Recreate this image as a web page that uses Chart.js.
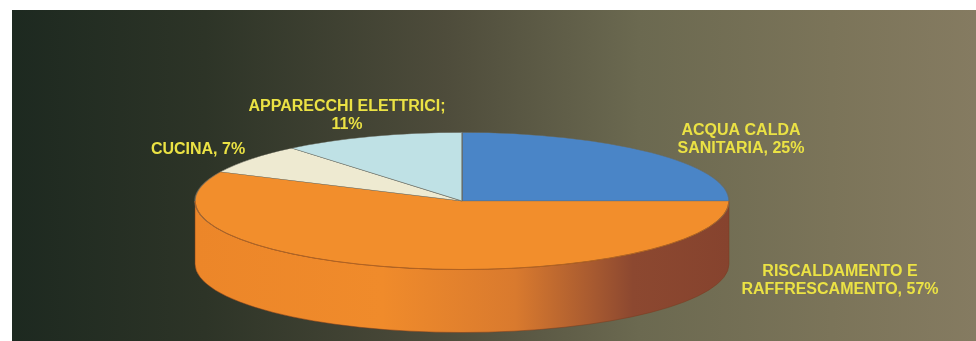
<!DOCTYPE html>
<html>
<head>
<meta charset="utf-8">
<script src="https://cdn.jsdelivr.net/npm/chart.js@4/dist/chart.umd.min.js"></script>
<style>
  html, body { margin: 0; padding: 0; background: #fff; }
  #wrap { width: 976px; height: 341px; position: relative; }
</style>
</head>
<body>
<div id="wrap"><canvas id="pie"></canvas></div>
<script>
// data
const categories = ["ACQUA CALDA SANITARIA", "RISCALDAMENTO E RAFFRESCAMENTO", "CUCINA", "APPARECCHI ELETTRICI"];
const shares = [25, 57, 7, 11];
const labelLines = [
  ["ACQUA CALDA", "SANITARIA, 25%"],
  ["RISCALDAMENTO E", "RAFFRESCAMENTO, 57%"],
  ["CUCINA, 7%"],
  ["APPARECCHI ELETTRICI;", "11%"]
];
const sliceColors = ["#4a85c7", "#f28e2c", "#eeead1", "#bfe1e5"];

// 3d look (screen px)
const RX = 267, RY = 68.5, DEPTH = 63;
// label anchors (centre of first line)
const labelAnchors = [[741, 131], [840, 272], [198, 150], [347, 107]];

const bgPlugin = {
  id: "bg",
  beforeDraw(chart) {
    const ctx = chart.ctx;
    ctx.save();
    ctx.fillStyle = "#fff";
    ctx.fillRect(0, 0, chart.width, chart.height);
    const g = ctx.createLinearGradient(12, 0, chart.width, 0);
    g.addColorStop(0, "#1d2920");
    g.addColorStop(0.2, "#2d3427");
    g.addColorStop(0.45, "#4e4c3b");
    g.addColorStop(0.65, "#6b6950");
    g.addColorStop(0.85, "#7b7459");
    g.addColorStop(1, "#857b61");
    ctx.fillStyle = g;
    ctx.fillRect(12, 10, chart.width - 12, chart.height - 10);
    ctx.restore();
  }
};

const pie3d = {
  id: "pie3d",
  beforeDatasetsDraw(chart) {
    const ctx = chart.ctx;
    const arcs = chart.getDatasetMeta(0).data;
    const cx = arcs[0].x, cy = arcs[0].y, R = arcs[0].outerRadius;

    // side walls, only the front half is visible
    const side = ctx.createLinearGradient(cx - RX, 0, cx + RX, 0);
    side.addColorStop(0, "#ec8629");
    side.addColorStop(0.35, "#f08b2b");
    side.addColorStop(0.6, "#d97a2e");
    side.addColorStop(0.74, "#a95b30");
    side.addColorStop(0.82, "#8c4830");
    side.addColorStop(1, "#86432e");
    arcs.forEach(arc => {
      const s = Math.max(arc.startAngle, 0);
      const e = Math.min(arc.endAngle, Math.PI);
      if (e <= s) return;
      ctx.save();
      ctx.beginPath();
      ctx.ellipse(cx, cy, RX, RY, 0, s, e);
      ctx.ellipse(cx, cy + DEPTH, RX, RY, 0, e, s, true);
      ctx.closePath();
      ctx.fillStyle = side;
      ctx.fill();
      ctx.strokeStyle = "rgba(120,60,30,0.5)";
      ctx.lineWidth = 1;
      ctx.stroke();
      ctx.restore();
    });

    // top face: the library's arcs squashed into an ellipse
    ctx.save();
    ctx.translate(cx, cy);
    ctx.scale(RX / R, RY / R);
    ctx.translate(-cx, -cy);
    arcs.forEach(arc => arc.draw(ctx));
    ctx.restore();

    // front rim of the top face
    ctx.save();
    ctx.beginPath();
    ctx.ellipse(cx, cy, RX, RY, 0, 0, Math.PI);
    ctx.strokeStyle = "#b5621f";
    ctx.lineWidth = 1;
    ctx.stroke();
    ctx.restore();
    return false;
  },
  afterDraw(chart) {
    const ctx = chart.ctx;
    ctx.save();
    ctx.font = "bold 16px 'Liberation Sans', Arial, sans-serif";
    ctx.fillStyle = "#ebe244";
    ctx.textAlign = "center";
    ctx.textBaseline = "middle";
    labelLines.forEach((lines, i) => {
      const [x, y] = labelAnchors[i];
      lines.forEach((t, j) => ctx.fillText(t, x, y + j * 18));
    });
    ctx.restore();
  }
};

new Chart(document.getElementById("pie"), {
  type: "pie",
  data: {
    labels: categories,
    datasets: [{
      data: shares,
      backgroundColor: sliceColors,
      borderColor: "rgba(105,105,95,0.7)",
      borderWidth: 0.8
    }]
  },
  options: {
    responsive: true,
    maintainAspectRatio: false,
    animation: false,
    events: [],
    layout: { padding: { left: 0, right: 52, top: 61, bottom: 0 } },
    plugins: {
      legend: { display: false },
      tooltip: { enabled: false }
    }
  },
  plugins: [bgPlugin, pie3d]
});
</script>
</body>
</html>
